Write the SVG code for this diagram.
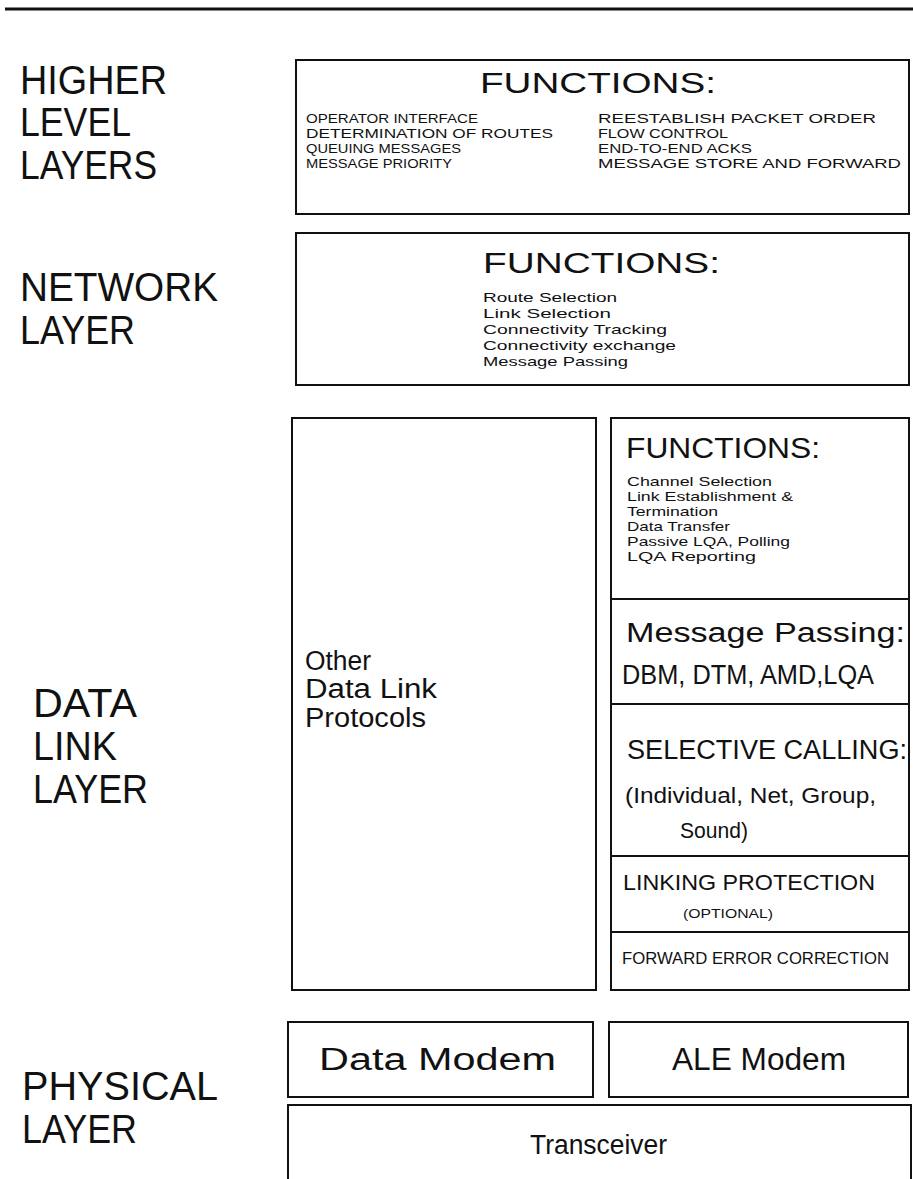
<svg xmlns="http://www.w3.org/2000/svg" width="913" height="1179" viewBox="0 0 913 1179">
  <style>
    .box { fill: none; stroke: #111; stroke-width: 2; }
    .rule { stroke: #111; stroke-width: 2; }
    text { font-family: "Liberation Sans", Arial, sans-serif; fill: #111; }
    .layer { font-size: 40px; }
    .title { font-size: 29px; }
    .item { font-size: 13px; }
    .mid { font-size: 27px; }
  </style>

  <!-- top rule -->
  <line x1="5" y1="9" x2="913" y2="9" stroke="#111" stroke-width="3"/>

  <!-- layer labels -->
  <g id="labels">
    <text class="layer" x="20" y="94" textLength="147" lengthAdjust="spacingAndGlyphs">HIGHER</text>
    <text class="layer" x="20" y="136" textLength="111" lengthAdjust="spacingAndGlyphs">LEVEL</text>
    <text class="layer" x="20" y="179" textLength="137" lengthAdjust="spacingAndGlyphs">LAYERS</text>
    <text class="layer" x="20" y="301" textLength="198" lengthAdjust="spacingAndGlyphs">NETWORK</text>
    <text class="layer" x="20" y="344" textLength="115" lengthAdjust="spacingAndGlyphs">LAYER</text>
    <text class="layer" x="33" y="717" textLength="104" lengthAdjust="spacingAndGlyphs">DATA</text>
    <text class="layer" x="33" y="760" textLength="84" lengthAdjust="spacingAndGlyphs">LINK</text>
    <text class="layer" x="33" y="803" textLength="115" lengthAdjust="spacingAndGlyphs">LAYER</text>
    <text class="layer" x="22" y="1100" textLength="196" lengthAdjust="spacingAndGlyphs">PHYSICAL</text>
    <text class="layer" x="22" y="1143" textLength="115" lengthAdjust="spacingAndGlyphs">LAYER</text>
  </g>

  <!-- higher level layers -->
  <g id="higher">
    <rect class="box" x="296" y="60" width="613" height="154"/>
    <text class="title" x="480" y="93" textLength="236" lengthAdjust="spacingAndGlyphs">FUNCTIONS:</text>
    <text class="item" x="306" y="123" textLength="172" lengthAdjust="spacingAndGlyphs">OPERATOR INTERFACE</text>
    <text class="item" x="306" y="138" textLength="247" lengthAdjust="spacingAndGlyphs">DETERMINATION OF ROUTES</text>
    <text class="item" x="306" y="153" textLength="155" lengthAdjust="spacingAndGlyphs">QUEUING MESSAGES</text>
    <text class="item" x="306" y="168" textLength="146" lengthAdjust="spacingAndGlyphs">MESSAGE PRIORITY</text>
    <text class="item" x="598" y="123" textLength="278" lengthAdjust="spacingAndGlyphs">REESTABLISH PACKET ORDER</text>
    <text class="item" x="598" y="138" textLength="130" lengthAdjust="spacingAndGlyphs">FLOW CONTROL</text>
    <text class="item" x="598" y="153" textLength="154" lengthAdjust="spacingAndGlyphs">END-TO-END ACKS</text>
    <text class="item" x="598" y="168" textLength="303" lengthAdjust="spacingAndGlyphs">MESSAGE STORE AND FORWARD</text>
  </g>

  <!-- network layer -->
  <g id="network">
    <rect class="box" x="296" y="233" width="613" height="152"/>
    <text class="title" x="483" y="273" textLength="237" lengthAdjust="spacingAndGlyphs">FUNCTIONS:</text>
    <text class="item" x="483" y="302" font-size="14" textLength="134" lengthAdjust="spacingAndGlyphs">Route Selection</text>
    <text class="item" x="483" y="318" font-size="14" textLength="128" lengthAdjust="spacingAndGlyphs">Link Selection</text>
    <text class="item" x="483" y="334" font-size="14" textLength="184" lengthAdjust="spacingAndGlyphs">Connectivity Tracking</text>
    <text class="item" x="483" y="350" font-size="14" textLength="193" lengthAdjust="spacingAndGlyphs">Connectivity exchange</text>
    <text class="item" x="483" y="366" font-size="14" textLength="145" lengthAdjust="spacingAndGlyphs">Message Passing</text>
  </g>

  <!-- other data link protocols -->
  <g id="other-protocols">
    <rect class="box" x="292" y="418" width="304" height="572"/>
    <text class="mid" x="305" y="670" textLength="66" lengthAdjust="spacingAndGlyphs">Other</text>
    <text class="mid" x="305" y="698" textLength="132" lengthAdjust="spacingAndGlyphs">Data Link</text>
    <text class="mid" x="305" y="727" textLength="121" lengthAdjust="spacingAndGlyphs">Protocols</text>
  </g>

  <!-- ALE data link stack -->
  <g id="ale-stack">
    <rect class="box" x="611" y="418" width="298" height="572"/>
    <line class="rule" x1="611" y1="599" x2="909" y2="599"/>
    <line class="rule" x1="611" y1="704" x2="909" y2="704"/>
    <line class="rule" x1="611" y1="856" x2="909" y2="856"/>
    <line class="rule" x1="611" y1="932" x2="909" y2="932"/>
  </g>
  <g id="ale-functions">
    <text class="title" x="626" y="458" font-size="28" textLength="194" lengthAdjust="spacingAndGlyphs">FUNCTIONS:</text>
    <text class="item" x="627" y="486" textLength="145" lengthAdjust="spacingAndGlyphs">Channel Selection</text>
    <text class="item" x="627" y="501" textLength="166" lengthAdjust="spacingAndGlyphs">Link Establishment &amp;</text>
    <text class="item" x="627" y="516" textLength="91" lengthAdjust="spacingAndGlyphs">Termination</text>
    <text class="item" x="627" y="531" textLength="103" lengthAdjust="spacingAndGlyphs">Data Transfer</text>
    <text class="item" x="627" y="546" textLength="163" lengthAdjust="spacingAndGlyphs">Passive LQA, Polling</text>
    <text class="item" x="627" y="561" textLength="129" lengthAdjust="spacingAndGlyphs">LQA Reporting</text>
  </g>
  <g id="message-passing">
    <text class="mid" x="626" y="642" textLength="279" lengthAdjust="spacingAndGlyphs">Message Passing:</text>
    <text class="mid" x="622" y="684" font-size="24" textLength="252" lengthAdjust="spacingAndGlyphs">DBM, DTM, AMD,LQA</text>
  </g>
  <g id="selective-calling">
    <text class="mid" x="627" y="759" font-size="26" textLength="280" lengthAdjust="spacingAndGlyphs">SELECTIVE CALLING:</text>
    <text x="625" y="803" font-size="22" textLength="251" lengthAdjust="spacingAndGlyphs">(Individual, Net, Group,</text>
    <text x="680" y="838" font-size="22" textLength="68" lengthAdjust="spacingAndGlyphs">Sound)</text>
  </g>
  <g id="linking-protection">
    <text x="623" y="890" font-size="22" textLength="252" lengthAdjust="spacingAndGlyphs">LINKING PROTECTION</text>
    <text x="683" y="918" font-size="13" textLength="90" lengthAdjust="spacingAndGlyphs">(OPTIONAL)</text>
  </g>
  <g id="fec">
    <text x="622" y="964" font-size="16" textLength="267" lengthAdjust="spacingAndGlyphs">FORWARD ERROR CORRECTION</text>
  </g>

  <!-- physical layer -->
  <g id="data-modem">
    <rect class="box" x="288" y="1022" width="305" height="75"/>
    <text x="319" y="1070" font-size="31" textLength="237" lengthAdjust="spacingAndGlyphs">Data Modem</text>
  </g>
  <g id="ale-modem">
    <rect class="box" x="609" y="1022" width="299" height="75"/>
    <text x="672" y="1070" font-size="31" textLength="174" lengthAdjust="spacingAndGlyphs">ALE Modem</text>
  </g>
  <g id="transceiver">
    <path class="box" d="M288,1179 V1105 H911 V1179"/>
    <text x="530" y="1154" font-size="27" textLength="137" lengthAdjust="spacingAndGlyphs">Transceiver</text>
  </g>

  <g id="connectors"/>
</svg>
